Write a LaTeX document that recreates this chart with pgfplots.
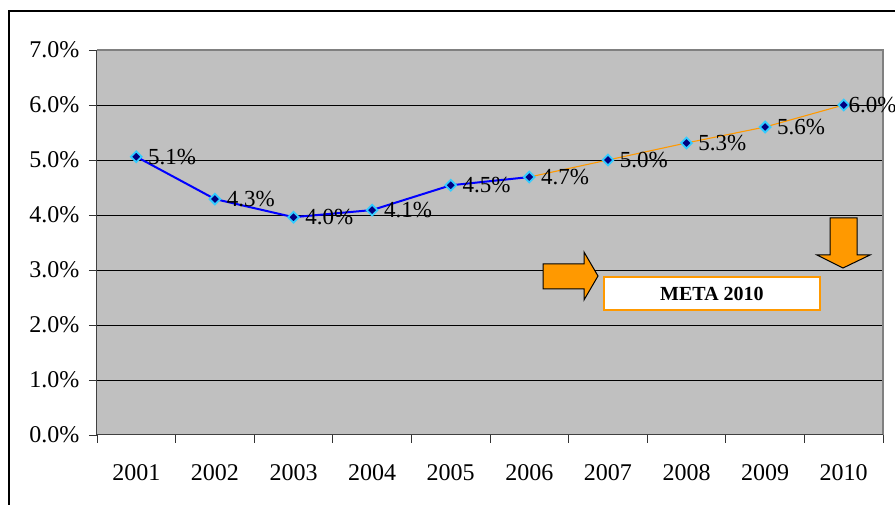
\documentclass[border=0pt]{standalone}
\usepackage{pgfplots}
\pgfplotsset{compat=1.18}
\usepackage{pgfplotstable}
\usepackage{fontspec}
\setmainfont{Liberation Serif}

\definecolor{plotgray}{HTML}{C0C0C0}
\definecolor{framegray}{HTML}{808080}
\definecolor{metaorange}{HTML}{FF9900}
\definecolor{markcyan}{HTML}{33CCFF}
\definecolor{marknavy}{HTML}{000080}

% year index (1 = 2001) and rate in percent
\pgfplotstableread{
x y
1 5.06
2 4.29
3 3.96
4 4.09
5 4.54
6 4.69
7 5.00
8 5.31
9 5.60
10 6.00
}\ratetable

\newcommand{\lblfont}{\fontsize{24}{28}\selectfont}
\newcommand{\valfont}{\fontsize{23}{27}\selectfont}

\pgfplotsset{
  ratemarks/.style={only marks, mark=square*, mark size=3.8pt,
    mark options={rotate=45, fill=marknavy, draw=markcyan, line width=1.8pt},
    point meta=y,
    nodes near coords={\pgfmathprintnumber[fixed,fixed zerofill,precision=1]{\pgfplotspointmeta}\%},
    every node near coord/.append style={anchor=west, inner sep=1pt,
      font=\valfont, color=black}},
}

\begin{document}
\begin{tikzpicture}[x=1pt,y=1pt]
\useasboundingbox (0,0) rectangle (895,505);
% outer frame
\draw[line width=2.2pt] (9,-2) -- (9,494) -- (897,494);

\begin{axis}[
  at={(97pt,70pt)}, anchor=south west,
  width=786pt, height=385pt, scale only axis,
  xmin=0.5, xmax=10.5, ymin=0, ymax=7,
  clip=false,
  axis background/.style={fill=plotgray},
  axis line style={draw=none},
  tick align=outside,
  xtick pos=bottom, ytick pos=left,
  major tick length=8pt,
  tick style={color=black!80, line width=0.9pt},
  xtick={0.5,1.5,...,10.5},
  xticklabels={},
  extra x ticks={1,2,...,10},
  extra x tick labels={2001,2002,2003,2004,2005,2006,2007,2008,2009,2010},
  extra x tick style={tick style={draw=none}},
  ytick={0,1,...,7},
  yticklabel={\pgfmathprintnumber[fixed,fixed zerofill,precision=1]{\tick}\%},
  extra y ticks={1,2,...,6},
  extra y tick labels={},
  extra y tick style={grid=major, tick style={draw=none}},
  grid style={black, line width=0.9pt},
  /pgf/number format/assume math mode=true,
  x tick label style={font=\lblfont, yshift=-18pt},
  y tick label style={font=\lblfont, xshift=-6pt},
]
% plot area border
\draw[framegray, line width=2pt] (rel axis cs:0,1) -- (rel axis cs:1,1) -- (rel axis cs:1,0);
\draw[black!75, line width=1pt] (rel axis cs:0,1) -- (rel axis cs:0,0) -- (rel axis cs:1,0);

% observed years
\addplot[color=blue, line width=2pt, restrict x to domain=1:6]
  table[x=x, y=y] {\ratetable};
% path to the 2010 target
\addplot[color=metaorange, line width=1.1pt, restrict x to domain=6:10]
  table[x=x, y=y] {\ratetable};
% markers with value labels
\addplot[ratemarks, restrict x to domain=1:9,
  every node near coord/.append style={xshift=10pt}]
  table[x=x, y=y] {\ratetable};
\addplot[ratemarks, restrict x to domain=10:10,
  every node near coord/.append style={xshift=3pt}]
  table[x=x, y=y] {\ratetable};
\end{axis}

% target annotation
\draw[fill=metaorange, line width=1pt, line join=miter]
  (543,241) -- (584,241) -- (584,253) -- (598,229) -- (584,205) -- (584,216) -- (543,216) -- cycle;
\draw[fill=metaorange, line width=1pt, line join=miter]
  (830,287) -- (857,287) -- (857,250) -- (870,250) -- (843,237) -- (817,250) -- (830,250) -- cycle;
\draw[metaorange, fill=white, line width=1.2pt] (604,228) rectangle (820,195);
\node[font=\fontsize{20}{24}\selectfont\bfseries] at (712,211.5) {META 2010};
\end{tikzpicture}
\end{document}
